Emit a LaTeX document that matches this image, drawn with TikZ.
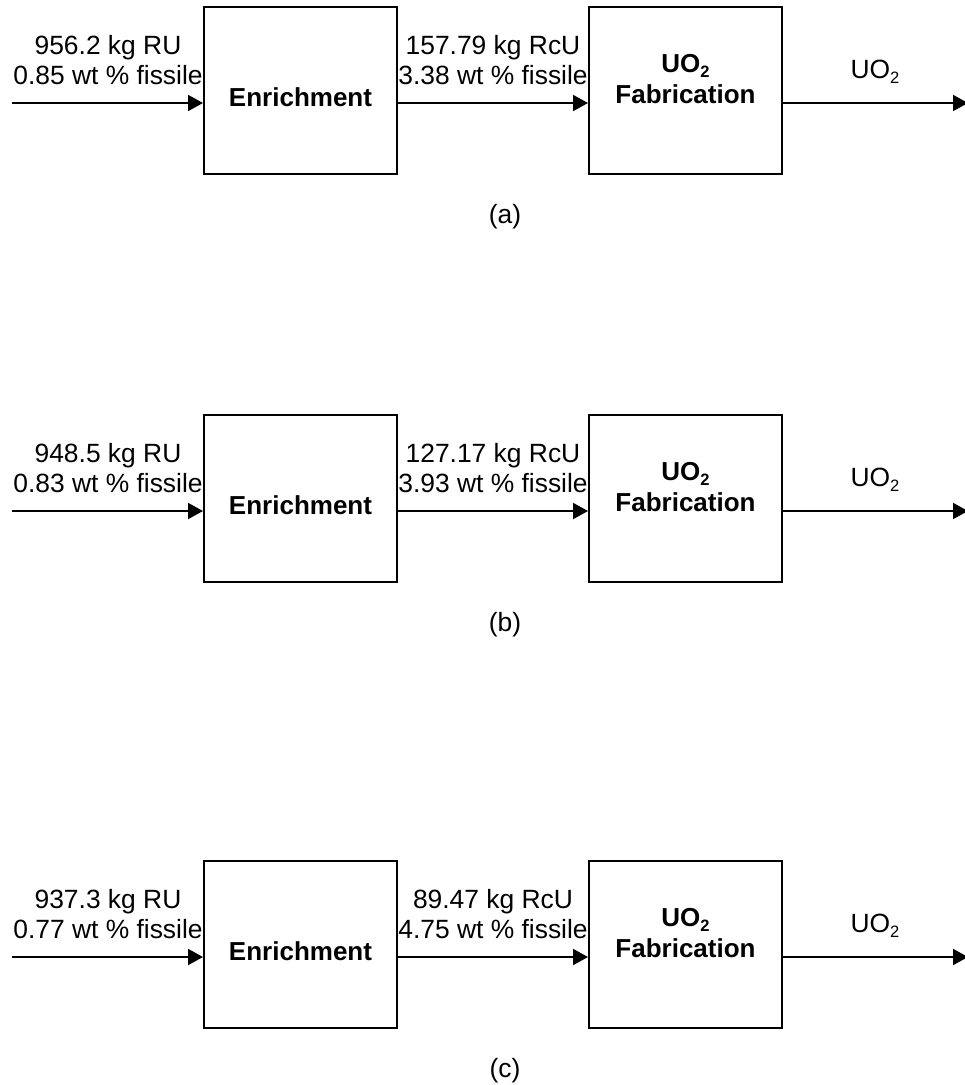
\documentclass[tikz,border=0pt]{standalone}
\usepackage{fontspec}
\setmainfont{Liberation Sans}
\usetikzlibrary{arrows.meta}
\newcommand{\subtwo}{\raisebox{-5pt}{\fontsize{16.5}{16.5}\selectfont 2}}
\newcommand{\fuelrow}[6]{%
  \begin{scope}[shift={(0,#1)}]
    \coordinate (in#6) at (12,103);
    \node[box] (enr#6) at (300.5,90.5) {};
    \node[box] (fab#6) at (685.5,90.5) {};
    \coordinate (out#6) at (968,103);
    \draw[flow] (in#6) -- (in#6 -| enr#6.west);
    \draw[flow] (enr#6.east |- in#6) -- (fab#6.west |- in#6);
    \draw[flow] (fab#6.east |- in#6) -- (out#6);
    \node[boxlbl, anchor=base] (enrt#6) at (300.5,106) {Enrichment};
    \node[boxlbl] (fabt#6) at (685.5,104) {UO\subtwo\\Fabrication};
    \node[lbl] (feed#6) at (108,85) {#2\\#3};
    \node[lbl] (prod#6) at (493,85) {#4\\#5};
    \node[lbl, anchor=base] (uo#6) at (875,78) {UO\subtwo};
    \node[captext] (tag#6) at (505,217) {(#6)};
  \end{scope}}
\begin{document}
\begin{tikzpicture}[x=1pt,y=-1pt,
  box/.style={draw, line width=2pt, minimum width=193pt, minimum height=167pt, inner sep=0pt},
  flow/.style={line width=2pt, -{Triangle[length=15pt,width=16pt]}},
  lbl/.style={font=\fontsize{26.4}{30}\selectfont, align=center, inner sep=0pt, anchor=south},
  boxlbl/.style={font=\bfseries\fontsize{26}{31}\selectfont, align=center, inner sep=0pt, anchor=south},
  captext/.style={font=\fontsize{26.4}{30}\selectfont, inner sep=0pt}]
\useasboundingbox (0,0) rectangle (965,1085);
\fill[white] (0,0) rectangle (965,1085);
\fuelrow{0}{956.2 kg RU}{0.85 wt \% fissile}{157.79 kg RcU}{3.38 wt \% fissile}{a}
\fuelrow{408}{948.5 kg RU}{0.83 wt \% fissile}{127.17 kg RcU}{3.93 wt \% fissile}{b}
\fuelrow{854}{937.3 kg RU}{0.77 wt \% fissile}{89.47 kg RcU}{4.75 wt \% fissile}{c}
\end{tikzpicture}
\end{document}
